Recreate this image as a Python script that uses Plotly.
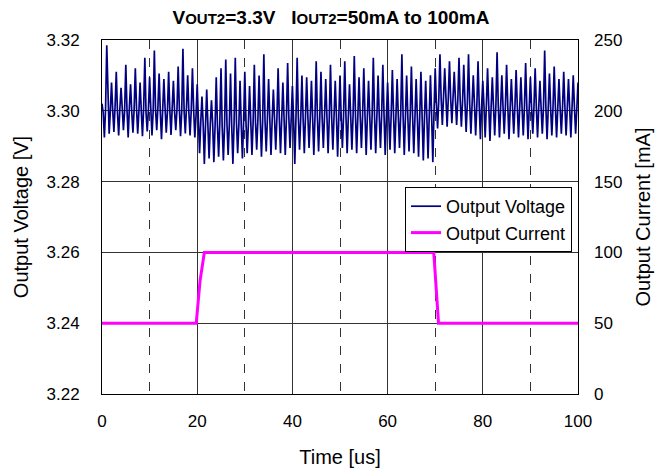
import numpy as np
import plotly.graph_objects as go

# Output voltage samples (V), 0.25 us spacing from 0 to 100 us
voltage = [
    3.3020, 3.2995, 3.2925, 3.3005,
    3.3185, 3.3010, 3.2935, 3.2998,
    3.3080, 3.3002, 3.2940, 3.3012,
    3.3110, 3.2996, 3.2930, 3.3005,
    3.3065, 3.3008, 3.2945, 3.2999,
    3.3130, 3.3003, 3.2925, 3.3010,
    3.3075, 3.2997, 3.2938, 3.3004,
    3.3120, 3.3009, 3.2935, 3.2998,
    3.3080, 3.3001, 3.2928, 3.3008,
    3.3150, 3.2995, 3.2942, 3.3003,
    3.3095, 3.3007, 3.2930, 3.2999,
    3.3170, 3.3002, 3.2945, 3.3011,
    3.3105, 3.2996, 3.2920, 3.3004,
    3.3090, 3.3008, 3.2938, 3.2998,
    3.3110, 3.3001, 3.2932, 3.3009,
    3.3085, 3.2997, 3.2945, 3.3003,
    3.3125, 3.3006, 3.2928, 3.2999,
    3.3175, 3.3000, 3.2936, 3.3010,
    3.3100, 3.2995, 3.2930, 3.3002,
    3.3120, 3.3004, 3.2925, 3.2985,
    3.3075, 3.2975, 3.2880, 3.2968,
    3.3040, 3.2965, 3.2850, 3.2960,
    3.3060, 3.2958, 3.2865, 3.2962,
    3.3030, 3.2962, 3.2855, 3.2955,
    3.3095, 3.2960, 3.2870, 3.2965,
    3.3120, 3.2955, 3.2860, 3.2958,
    3.3145, 3.2964, 3.2875, 3.2962,
    3.3105, 3.2958, 3.2850, 3.2966,
    3.3150, 3.2968, 3.2880, 3.2960,
    3.3085, 3.2962, 3.2865, 3.2970,
    3.3110, 3.2966, 3.2880, 3.2962,
    3.3070, 3.2972, 3.2875, 3.2968,
    3.3130, 3.2968, 3.2890, 3.2975,
    3.3100, 3.2975, 3.2870, 3.2970,
    3.3160, 3.2972, 3.2885, 3.2978,
    3.3090, 3.2978, 3.2875, 3.2974,
    3.3060, 3.2976, 3.2890, 3.2980,
    3.3120, 3.2980, 3.2880, 3.2976,
    3.3080, 3.2978, 3.2875, 3.2982,
    3.3135, 3.2982, 3.2895, 3.2978,
    3.3070, 3.2976, 3.2850, 3.2980,
    3.3150, 3.2982, 3.2890, 3.2978,
    3.3100, 3.2978, 3.2880, 3.2984,
    3.3095, 3.2984, 3.2895, 3.2980,
    3.3085, 3.2980, 3.2875, 3.2984,
    3.3140, 3.2984, 3.2885, 3.2980,
    3.3110, 3.2980, 3.2895, 3.2986,
    3.3090, 3.2986, 3.2880, 3.2982,
    3.3130, 3.2982, 3.2890, 3.2986,
    3.3085, 3.2986, 3.2870, 3.2982,
    3.3100, 3.2982, 3.2895, 3.2986,
    3.3140, 3.2986, 3.2880, 3.2984,
    3.3075, 3.2984, 3.2890, 3.2988,
    3.3155, 3.2988, 3.2880, 3.2984,
    3.3095, 3.2984, 3.2895, 3.2988,
    3.3120, 3.2988, 3.2875, 3.2985,
    3.3085, 3.2985, 3.2890, 3.2988,
    3.3150, 3.2988, 3.2880, 3.2985,
    3.3100, 3.2985, 3.2895, 3.2988,
    3.3130, 3.2988, 3.2875, 3.2984,
    3.3080, 3.2984, 3.2890, 3.2988,
    3.3115, 3.2988, 3.2880, 3.2985,
    3.3090, 3.2985, 3.2895, 3.2988,
    3.3160, 3.2988, 3.2875, 3.2984,
    3.3100, 3.2984, 3.2885, 3.2986,
    3.3125, 3.2986, 3.2880, 3.2982,
    3.3090, 3.2982, 3.2870, 3.2984,
    3.3110, 3.2984, 3.2860, 3.2980,
    3.3085, 3.2980, 3.2865, 3.2986,
    3.3100, 3.2986, 3.2855, 3.2995,
    3.3120, 3.3020, 3.2950, 3.3030,
    3.3160, 3.3035, 3.2960, 3.3040,
    3.3120, 3.3040, 3.2955, 3.3035,
    3.3140, 3.3035, 3.2965, 3.3038,
    3.3110, 3.3032, 3.2960, 3.3030,
    3.3150, 3.3030, 3.2955, 3.3028,
    3.3130, 3.3025, 3.2940, 3.3022,
    3.3160, 3.3020, 3.2935, 3.3018,
    3.3100, 3.3018, 3.2930, 3.3015,
    3.3140, 3.3015, 3.2920, 3.3012,
    3.3085, 3.3012, 3.2925, 3.3015,
    3.3120, 3.3015, 3.2915, 3.3010,
    3.3095, 3.3010, 3.2930, 3.3014,
    3.3165, 3.3014, 3.2925, 3.3010,
    3.3100, 3.3010, 3.2935, 3.3013,
    3.3130, 3.3013, 3.2920, 3.3009,
    3.3090, 3.3009, 3.2935, 3.3012,
    3.3115, 3.3012, 3.2925, 3.3008,
    3.3095, 3.3008, 3.2930, 3.3011,
    3.3135, 3.3011, 3.2920, 3.3008,
    3.3095, 3.3008, 3.2935, 3.3011,
    3.3120, 3.3011, 3.2925, 3.3008,
    3.3085, 3.3008, 3.2935, 3.3011,
    3.3170, 3.3011, 3.2920, 3.3008,
    3.3105, 3.3008, 3.2930, 3.3010,
    3.3125, 3.3010, 3.2925, 3.3007,
    3.3090, 3.3007, 3.2935, 3.3010,
    3.3110, 3.3010, 3.2930, 3.3008,
    3.3090, 3.3008, 3.2925, 3.3010,
    3.3100, 3.3010, 3.2935, 3.3005,
    3.3080,
]
time_v = np.linspace(0, 100, len(voltage))

# Output current (mA)
time_i = [0, 19.8, 20.6, 21.5, 69.7, 70.2, 70.7, 100]
current = [50, 50, 80, 100, 100, 75, 50, 50]

FONT = "Liberation Sans, Arial, sans-serif"

fig = go.Figure()
fig.add_trace(go.Scatter(x=time_v, y=voltage, mode="lines", name="Output Voltage",
                         line=dict(color="#000080", width=1.7), yaxis="y"))
fig.add_trace(go.Scatter(x=time_i, y=current, mode="lines", name="Output Current",
                         line=dict(color="#FF00FF", width=3), yaxis="y2"))

title = ("V<span style='font-size:15px'>OUT2</span>=3.3V&nbsp;&nbsp;&nbsp;"
         "I<span style='font-size:15px'>OUT2</span>=50mA to 100mA")

fig.update_layout(
    width=662, height=468,
    margin=dict(l=102, r=84, t=40, b=74),
    paper_bgcolor="white", plot_bgcolor="white",
    font=dict(family=FONT, size=17, color="black"),
    title=dict(text="<b>" + title + "</b>", x=331/662, xanchor="center",
               y=1 - 17/468, yanchor="middle", font=dict(size=19)),
    showlegend=True,
    legend=dict(x=(572-102)/476, xanchor="right", y=(394-187)/354, yanchor="top",
                bgcolor="white", bordercolor="black", borderwidth=1,
                font=dict(size=18), tracegroupgap=0),
    xaxis=dict(range=[0, 100], dtick=20, tickformat="d", automargin=False,
               showgrid=True, gridcolor="#333333", gridwidth=1,
               minor=dict(dtick=10, showgrid=True, gridcolor="#333333", griddash="dash", gridwidth=1),
               showline=True, linecolor="black", linewidth=1, mirror=True,
               zeroline=False, ticks="", ticklabelstandoff=12,
               title=dict(text="Time [us]", standoff=22)),
    yaxis=dict(range=[3.22, 3.32], dtick=0.02, tickformat=".2f", automargin=False,
               showgrid=True, gridcolor="#333333", gridwidth=1,
               showline=True, linecolor="black", linewidth=1, mirror=True,
               zeroline=False, ticks="", ticklabelstandoff=18,
               title=dict(text="Output Voltage [V]", standoff=12)),
    yaxis2=dict(range=[0, 250], dtick=50, overlaying="y", side="right", automargin=False,
                showgrid=False, zeroline=False, ticks="", showline=False, ticklabelstandoff=15,
                title=dict(text="Output Current [mA]", standoff=14)),
)

fig.write_html("out.html", config={"displayModeBar": False},
               post_script=["document.body.style.margin='0';"])
